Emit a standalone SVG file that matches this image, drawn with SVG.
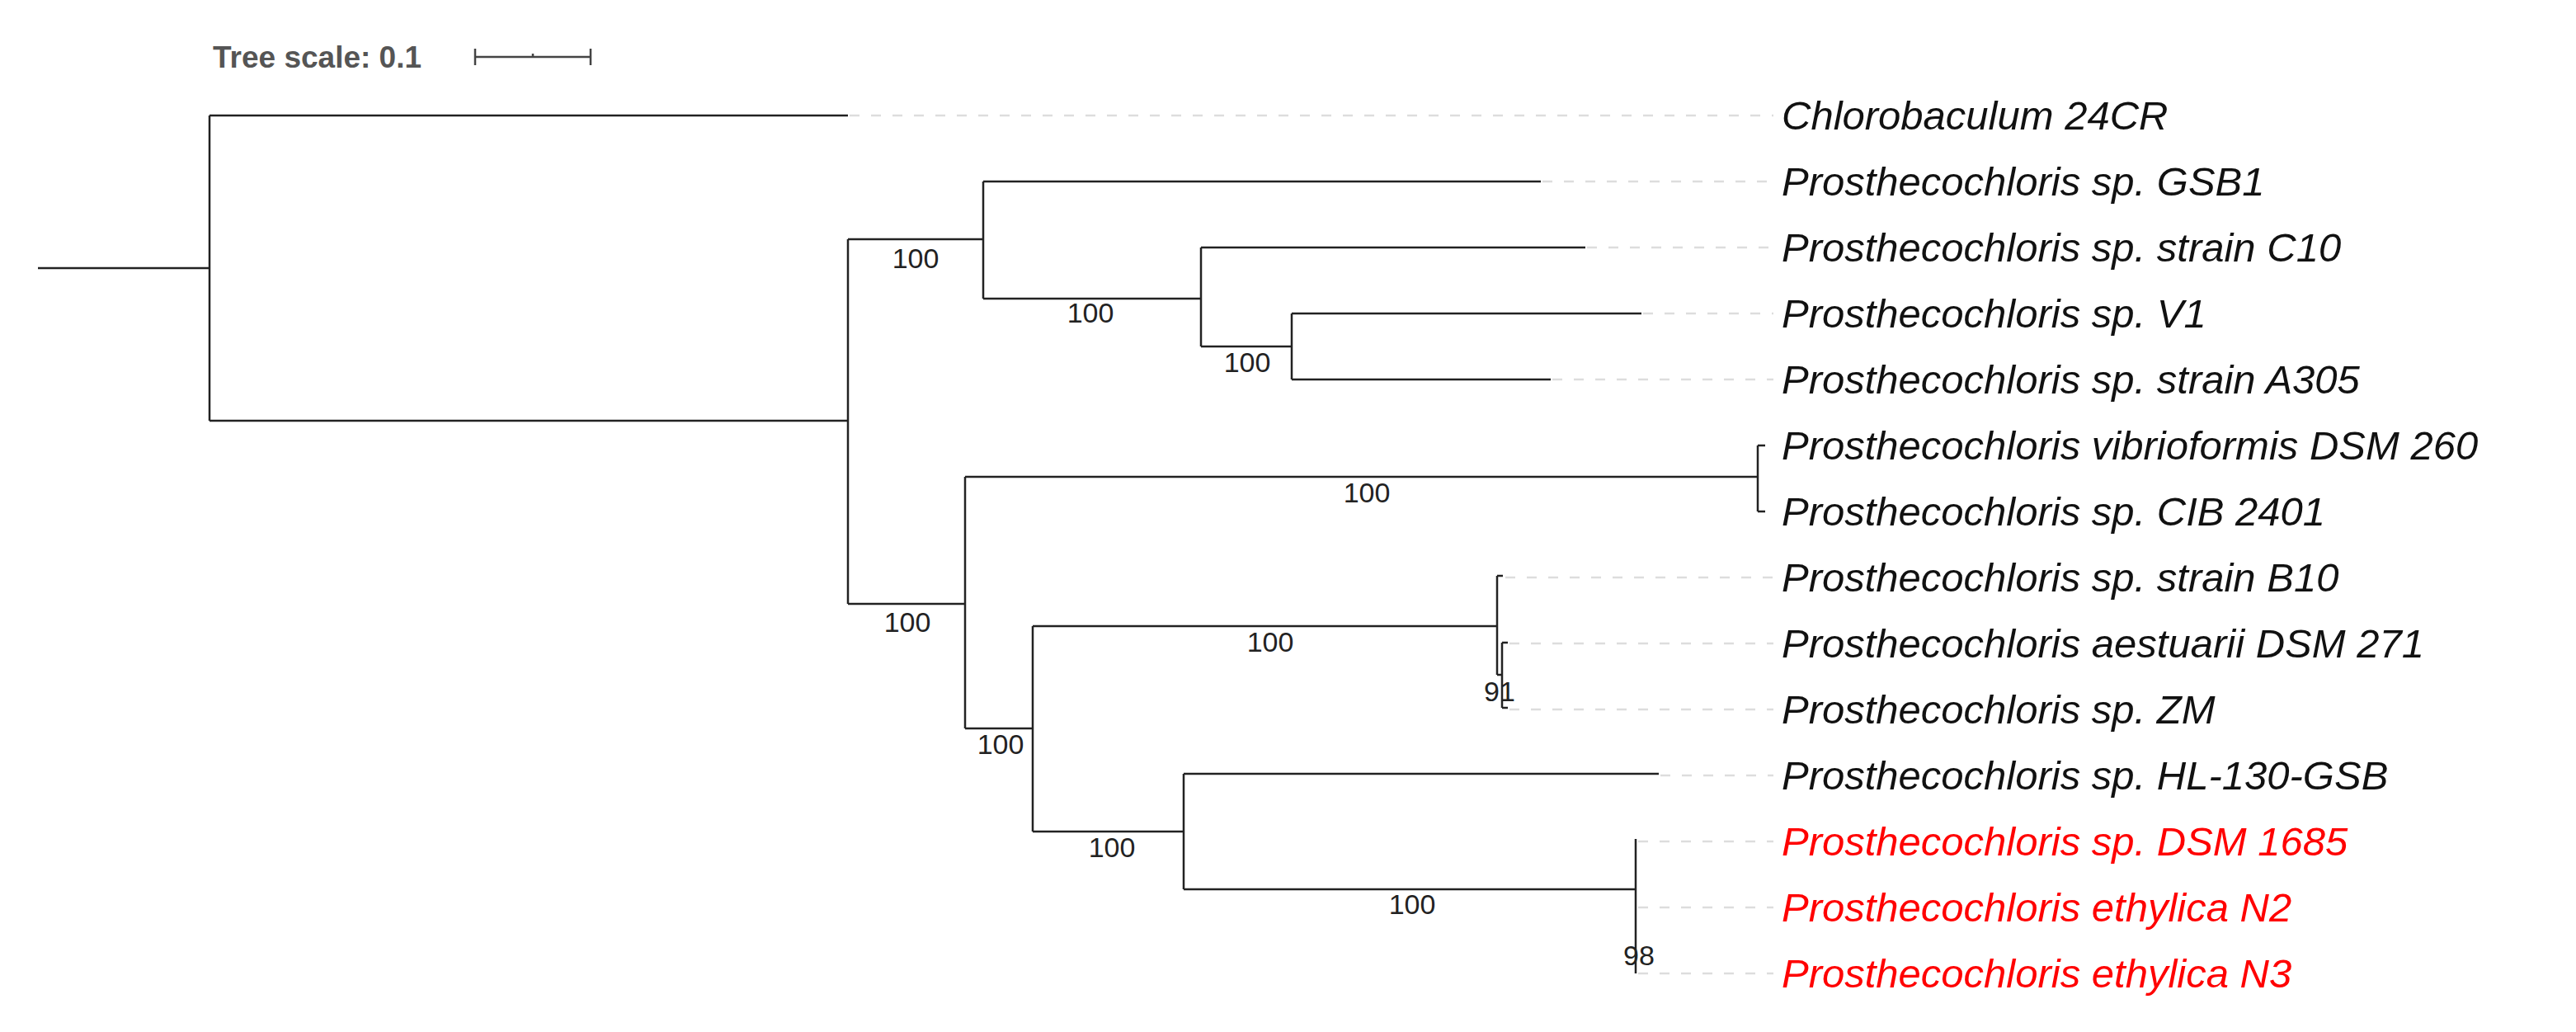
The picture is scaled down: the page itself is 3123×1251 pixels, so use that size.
<svg xmlns="http://www.w3.org/2000/svg" width="3123" height="1251" viewBox="0 0 3123 1251">
<style>
.b{stroke:#222;stroke-width:2.5;fill:none}
.d{stroke:#ddd;stroke-width:2.5;stroke-dasharray:12 14;fill:none}
.l{font-family:"Liberation Sans",Arial,sans-serif;font-style:italic;font-size:49px;fill:#111}
.r{fill:#ff0000}
.s{font-family:"Liberation Sans",Arial,sans-serif;font-size:34px;fill:#222;text-anchor:middle}
.t{font-family:"Liberation Sans",Arial,sans-serif;font-weight:bold;font-size:37px;fill:#555}
</style>
<rect width="3123" height="1251" fill="#fff"/>
<g id="scale">
<text class="t" x="258" y="82">Tree scale: 0.1</text>
<path class="b" d="M576 69H716M716 59V79M576 59V79M646 65V69" style="stroke:#444"/>
</g>
<g id="connectors">
<path class="b" d="M46 325H254M254 140V510M254 140H1028M254 510H1028M1028 290V732
M1028 290H1192M1192 220V362M1192 220H1868M1192 362H1456M1456 300V420M1456 300H1922M1456 420H1566M1566 380V460M1566 380H1990M1566 460H1880
M1028 732H1170M1170 578V883M1170 578H2131M2131 540V620M2131 540H2140M2131 620H2140
M1170 883H1252M1252 759V1008M1252 759H1815M1815 698V818M1815 698H1822M1815 818H1821M1821 779V858M1821 779H1828M1821 858H1828
M1252 1008H1435M1435 938V1078M1435 938H2011M1435 1078H1983M1983 1017V1180"/>
<path class="d" d="M1030 140H2150M1870 220H2150M1924 300H2150M1992 380H2150M1882 460H2150M1825 700H2150M1830 780H2150M1830 860H2150M2013 940H2150M1986 1020H2150M1986 1100H2150M1986 1180H2150"/>
</g>
<g id="support">
<text class="s" x="1110" y="325">100</text>
<text class="s" x="1322" y="391">100</text>
<text class="s" x="1512" y="451">100</text>
<text class="s" x="1100" y="766">100</text>
<text class="s" x="1657" y="609">100</text>
<text class="s" x="1213" y="914">100</text>
<text class="s" x="1540" y="790">100</text>
<text class="s" x="1818" y="850">91</text>
<text class="s" x="1348" y="1039">100</text>
<text class="s" x="1712" y="1108">100</text>
<text class="s" x="1987" y="1170">98</text>
</g>
<g id="leaves">
<text class="l" x="2160" y="157">Chlorobaculum 24CR</text>
<text class="l" x="2160" y="237">Prosthecochloris sp. GSB1</text>
<text class="l" x="2160" y="317">Prosthecochloris sp. strain C10</text>
<text class="l" x="2160" y="397">Prosthecochloris sp. V1</text>
<text class="l" x="2160" y="477">Prosthecochloris sp. strain A305</text>
<text class="l" x="2160" y="557">Prosthecochloris vibrioformis DSM 260</text>
<text class="l" x="2160" y="637">Prosthecochloris sp. CIB 2401</text>
<text class="l" x="2160" y="717">Prosthecochloris sp. strain B10</text>
<text class="l" x="2160" y="797">Prosthecochloris aestuarii DSM 271</text>
<text class="l" x="2160" y="877">Prosthecochloris sp. ZM</text>
<text class="l" x="2160" y="957">Prosthecochloris sp. HL-130-GSB</text>
<text class="l r" x="2160" y="1037">Prosthecochloris sp. DSM 1685</text>
<text class="l r" x="2160" y="1117">Prosthecochloris ethylica N2</text>
<text class="l r" x="2160" y="1197">Prosthecochloris ethylica N3</text>
</g>
</svg>
